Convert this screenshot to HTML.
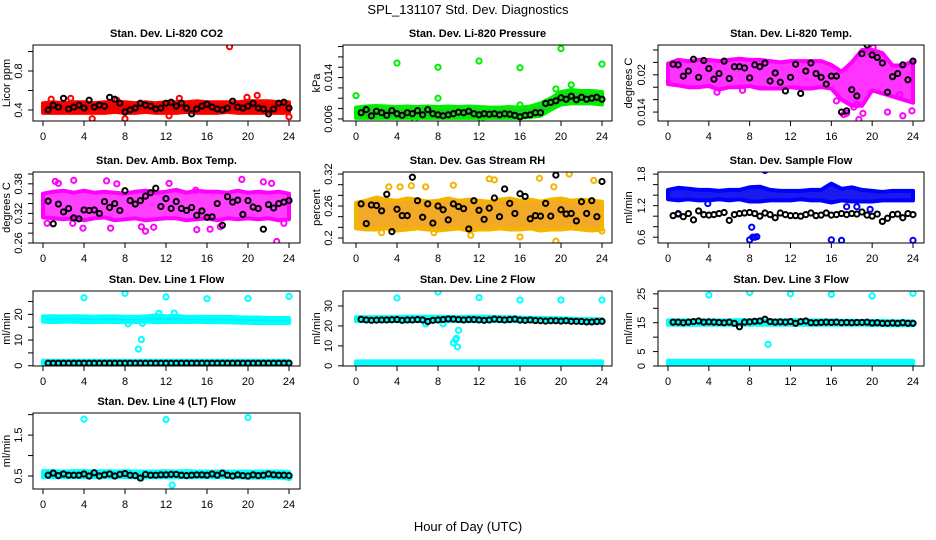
<!DOCTYPE html>
<html><head><meta charset="utf-8"><style>
html,body{margin:0;padding:0;background:#fff;}
svg{display:block;font-family:"Liberation Sans",sans-serif;}
</style></head><body>
<svg id="chart" width="936" height="540" viewBox="0 0 936 540" xmlns="http://www.w3.org/2000/svg">
<rect x="0" y="0" width="936" height="540" fill="#fff"/>
<text x="468" y="14" text-anchor="middle" font-size="13">SPL_131107  Std. Dev. Diagnostics</text>
<text x="468" y="531" text-anchor="middle" font-size="13">Hour of Day (UTC)</text>
</svg>
<script>
const bandHours=[0,1,2,3,4,5,6,7,8,9,10,11,12,13,14,15,16,17,18,19,20,21,22,23,24];
const blackHours=[0.5,1,1.5,2,2.5,3,3.5,4,4.5,5,5.5,6,6.5,7,7.5,8,8.5,9,9.5,10,10.5,11,11.5,12,12.5,13,13.5,14,14.5,15,15.5,16,16.5,17,17.5,18,18.5,19,19.5,20,20.5,21,21.5,22,22.5,23,23.5,24];
const xTicks=[0,4,8,12,16,20,24];

// CO2
const co2Lo=[0.37,0.37,0.37,0.37,0.37,0.37,0.37,0.38,0.37,0.37,0.38,0.37,0.37,0.37,0.38,0.37,0.37,0.37,0.38,0.37,0.37,0.37,0.37,0.37,0.37];
const co2Hi=[0.47,0.48,0.47,0.48,0.48,0.47,0.48,0.48,0.48,0.47,0.48,0.47,0.48,0.48,0.48,0.49,0.48,0.48,0.48,0.48,0.49,0.49,0.49,0.48,0.48];
const co2ExtraX=[18.2,4.8,8,24,20.9,2.7,13.3,0.8,12.3,19.9,7.2];
const co2ExtraY=[1.05,0.31,0.31,0.33,0.55,0.52,0.52,0.51,0.34,0.53,0.5];
const co2Black=[0.40,0.45,0.43,0.52,0.41,0.43,0.45,0.42,0.50,0.43,0.45,0.44,0.53,0.51,0.47,0.38,0.40,0.42,0.47,0.45,0.44,0.41,0.42,0.47,0.48,0.44,0.47,0.42,0.36,0.41,0.44,0.46,0.43,0.41,0.40,0.42,0.49,0.43,0.42,0.44,0.47,0.42,0.41,0.36,0.41,0.47,0.48,0.42];
const co2Ticks=[0.4,0.6,0.8,1.0];
const co2Labels=[0.4,0.8];

// Pressure
const prLo=[0.0062,0.0062,0.0062,0.0062,0.0062,0.0062,0.0062,0.0062,0.0062,0.0062,0.0062,0.0062,0.0062,0.0062,0.0062,0.0062,0.0062,0.0064,0.0066,0.0078,0.0088,0.0090,0.0090,0.0090,0.0088];
const prHi=[0.0082,0.0084,0.0085,0.0084,0.0083,0.0084,0.0083,0.0084,0.0083,0.0084,0.0083,0.0084,0.0083,0.0082,0.0082,0.0083,0.0082,0.0084,0.0090,0.0100,0.0112,0.0116,0.0114,0.0114,0.0112];
const prExtraX=[0,4,8,8,12,16,16,20,24,5.7,12.2,21,19.5];
const prExtraY=[0.0105,0.0168,0.0160,0.0100,0.0172,0.0159,0.0087,0.0196,0.0166,0.0059,0.0060,0.0126,0.0118];
const prBlack=[0.0072,0.0078,0.0066,0.0075,0.0072,0.0067,0.0076,0.0070,0.0067,0.0072,0.0070,0.0076,0.0068,0.0078,0.0070,0.0068,0.0066,0.0068,0.0070,0.0073,0.0072,0.0075,0.0070,0.0068,0.0070,0.0069,0.0070,0.0068,0.0070,0.0069,0.0067,0.0064,0.0067,0.0068,0.0072,0.0072,0.0090,0.0092,0.0095,0.0101,0.0098,0.0104,0.0097,0.0102,0.0098,0.0100,0.0102,0.0098];
const prTicks=[0.006,0.008,0.010,0.012,0.014,0.016,0.018,0.020];
const prLabels=[0.006,0.014];

// Li-820 Temp
const tLo=[0.0185,0.0183,0.0180,0.0180,0.0182,0.0176,0.0180,0.0180,0.0182,0.0178,0.0178,0.0178,0.0180,0.0178,0.0178,0.0180,0.0178,0.0160,0.0150,0.0150,0.0175,0.0170,0.0165,0.0160,0.0155];
const tHi=[0.0218,0.0224,0.0222,0.0224,0.0224,0.0222,0.0224,0.0226,0.0224,0.0224,0.0222,0.0220,0.0222,0.0222,0.0222,0.0222,0.0216,0.0205,0.0220,0.0240,0.0240,0.0235,0.0215,0.0215,0.0222];
const tExtraX=[17.2,17.5,18.7,19.1,21.5,23,23.9,7.3,4.8,18.2,19.8,20.1,22.7,16.5,18.5];
const tExtraY=[0.0136,0.0138,0.0128,0.0138,0.0140,0.0134,0.0142,0.0175,0.0172,0.0148,0.0236,0.0244,0.0168,0.0158,0.0152];
const tBlack=[0.0217,0.0216,0.0198,0.0206,0.0225,0.0196,0.0223,0.0210,0.0193,0.0202,0.0222,0.0194,0.0213,0.0213,0.0211,0.0195,0.0216,0.0213,0.0219,0.0190,0.0203,0.0188,0.0174,0.0196,0.0217,0.0170,0.0206,0.0219,0.0202,0.0196,0.0185,0.0198,0.0198,0.0140,0.0142,0.0176,0.0166,0.0234,0.0248,0.0232,0.0228,0.0219,0.0172,0.0197,0.0202,0.0216,0.0192,0.0222];
const tTicks=[0.014,0.016,0.018,0.020,0.022,0.024];
const tLabels=[0.014,0.020];

// Amb box temp
const abLo=[0.312,0.310,0.308,0.310,0.306,0.310,0.312,0.306,0.308,0.310,0.306,0.308,0.310,0.310,0.306,0.308,0.310,0.306,0.310,0.308,0.310,0.308,0.310,0.306,0.308];
const abHi=[0.360,0.364,0.366,0.362,0.366,0.362,0.364,0.362,0.360,0.364,0.366,0.362,0.364,0.368,0.362,0.366,0.364,0.364,0.362,0.366,0.362,0.364,0.362,0.364,0.360];
const abExtraX=[0.4,1.2,2.9,3.9,6.2,9.6,10,12.3,10.8,15,16.3,19.4,21.5,22.3,22.8,1.5,6.6,3,17.3,14.9,7.2,23.5];
const abExtraY=[0.300,0.385,0.300,0.290,0.386,0.293,0.284,0.381,0.292,0.287,0.288,0.389,0.384,0.381,0.263,0.381,0.290,0.387,0.293,0.367,0.380,0.300];
const abBlack=[0.345,0.299,0.339,0.323,0.330,0.311,0.309,0.327,0.326,0.327,0.320,0.344,0.332,0.340,0.326,0.366,0.346,0.339,0.346,0.355,0.362,0.371,0.334,0.350,0.330,0.344,0.330,0.326,0.332,0.316,0.325,0.312,0.313,0.340,0.296,0.354,0.343,0.347,0.318,0.346,0.333,0.330,0.288,0.338,0.331,0.340,0.343,0.346];
const abTicks=[0.26,0.28,0.30,0.32,0.34,0.36,0.38,0.40];
const abLabels=[0.26,0.32,0.38];

// Gas stream RH
const rhLo=[0.218,0.216,0.216,0.218,0.214,0.216,0.218,0.216,0.214,0.216,0.218,0.214,0.216,0.216,0.218,0.216,0.216,0.218,0.214,0.216,0.216,0.218,0.216,0.214,0.216];
const rhHi=[0.266,0.270,0.276,0.272,0.270,0.274,0.272,0.268,0.270,0.274,0.270,0.272,0.270,0.268,0.272,0.274,0.270,0.272,0.268,0.272,0.274,0.270,0.272,0.270,0.268];
const rhExtraX=[3.2,4.3,6.8,9.5,13,13.5,17.9,19.5,20.8,23.2,5.4,11.2,16,19.3,24,2.5,7.6];
const rhExtraY=[0.296,0.296,0.296,0.299,0.311,0.309,0.312,0.194,0.320,0.308,0.298,0.205,0.202,0.296,0.213,0.210,0.210];
const rhBlack=[0.264,0.227,0.262,0.261,0.251,0.282,0.212,0.254,0.242,0.242,0.314,0.270,0.239,0.264,0.228,0.260,0.253,0.234,0.264,0.259,0.255,0.217,0.270,0.252,0.235,0.256,0.275,0.240,0.292,0.265,0.246,0.283,0.278,0.236,0.242,0.241,0.265,0.241,0.318,0.253,0.245,0.246,0.232,0.268,0.246,0.270,0.240,0.306];
const rhTicks=[0.20,0.22,0.24,0.26,0.28,0.30,0.32];
const rhLabels=[0.20,0.26,0.32];

// Sample flow
const sfLo=[1.32,1.30,1.32,1.30,1.30,1.32,1.30,1.32,1.28,1.28,1.30,1.30,1.30,1.32,1.30,1.30,1.26,1.30,1.28,1.28,1.28,1.30,1.30,1.30,1.30];
const sfHi=[1.50,1.54,1.52,1.50,1.50,1.48,1.50,1.50,1.55,1.56,1.50,1.48,1.48,1.48,1.50,1.50,1.62,1.52,1.55,1.50,1.48,1.46,1.48,1.48,1.48];
const sfExtraX=[9.5,8,8.3,8.5,8.7,8.2,16,17,24,1,17.5,19.8,3.9,18.5];
const sfExtraY=[1.87,0.55,0.60,0.60,0.61,0.79,0.55,0.54,0.54,1.05,1.18,1.13,1.24,1.18];
const sfBlack=[1.01,1.04,0.99,1.05,0.93,1.10,1.03,1.02,1.03,1.05,1.07,0.92,1.03,1.05,1.06,1.07,1.05,1.00,1.06,1.03,0.97,1.06,1.03,1.01,1.01,1.00,1.03,1.06,1.01,1.02,1.06,1.02,1.03,1.05,1.03,1.05,1.04,1.08,1.02,1.00,1.04,0.90,0.96,1.03,1.04,0.97,1.05,1.03];
const sfTicks=[0.6,0.8,1.0,1.2,1.4,1.6,1.8];
const sfLabels=[0.6,1.2,1.8];

// Line 1 flow
const l1Lo=[17.2,17.0,17.1,17.2,17.0,17.0,17.1,17.0,17.0,17.0,17.2,17.0,17.0,17.1,17.0,17.1,17.0,16.9,16.9,16.8,16.7,16.6,16.6,16.6,16.6];
const l1Hi=[19.2,19.3,19.2,19.3,19.2,19.1,19.2,19.2,19.1,19.0,19.2,19.6,19.3,19.4,19.1,19.1,19.0,19.0,19.0,18.9,18.8,18.8,18.6,18.6,18.6];
const l1Lo2=[0.5,0.5,0.5,0.5,0.5,0.5,0.5,0.5,0.5,0.5,0.5,0.5,0.5,0.5,0.5,0.5,0.5,0.5,0.5,0.5,0.5,0.5,0.5,0.5,0.5];
const l1Hi2=[2.0,1.9,1.9,1.9,1.9,1.9,1.9,1.9,1.9,1.9,1.9,1.9,1.9,1.9,1.9,1.9,1.9,1.9,1.9,1.9,1.9,1.9,1.9,1.9,1.9];
const l1ExtraX=[4,8,12,16,20,24,9.3,9.6,9.7,8.3,11.3,12.8];
const l1ExtraY=[26.5,28.2,26.8,26.1,26.2,27.0,6.5,10.2,16.5,16.3,20.4,20.5];
const l1Black=[1,1,1,1,1,1,1,1,1,1,1,1,1,1,1,1,1,1,1,1,1,1,1,1,1,1,1,1,1,1,1,1,1,1,1,1,1,1,1,1,1,1,1,1,1,1,1,1];
const l1Ticks=[0,5,10,15,20,25];
const l1Labels=[0,10,20];

// Line 2 flow
const l2Lo=[22.4,22.4,22.4,22.4,22.4,22.4,22.4,22.4,22.4,22.4,22.4,22.4,22.4,22.4,22.4,22.4,22.4,22.2,22.2,22.0,22.0,22.0,21.8,21.8,21.8];
const l2Hi=[24.4,24.4,24.4,24.4,24.4,24.6,24.6,24.6,24.6,24.4,24.4,24.6,24.6,24.6,24.4,24.4,24.2,24.0,24.0,23.8,23.8,23.6,23.4,23.4,23.4];
const l2Lo2=[0.5,0.5,0.5,0.5,0.5,0.5,0.5,0.5,0.5,0.5,0.5,0.5,0.5,0.5,0.5,0.5,0.5,0.5,0.5,0.5,0.5,0.5,0.5,0.5,0.5];
const l2Hi2=[2.2,2.2,2.2,2.2,2.2,2.2,2.2,2.2,2.2,2.2,2.2,2.2,2.2,2.2,2.2,2.2,2.2,2.2,2.2,2.2,2.2,2.2,2.2,2.2,2.2];
const l2ExtraX=[4,8,12,16,20,24,9.5,9.8,10,9.9,9.7,6.8,8.5];
const l2ExtraY=[34,37,34.2,33,33,33,11.5,13.8,17.8,9.5,13,21,21];
const l2Black=[23.3,23.0,22.8,22.9,23.0,23.0,23.1,23.2,22.8,23.0,23.0,23.2,23.0,22.2,22.8,23.0,23.2,23.5,23.4,23.2,23.0,23.2,23.2,23.0,22.8,23.0,23.4,23.2,23.0,23.2,23.4,22.9,22.8,23.0,22.7,22.6,22.4,22.6,22.6,22.4,22.6,22.3,22.3,22.2,22.0,22.0,22.2,22.3];
const l2Ticks=[0,10,20,30];
const l2Labels=[0,10,20,30];

// Line 3 flow
const l3Lo=[14.3,14.3,14.3,14.3,14.3,14.3,14.3,14.3,14.3,14.3,14.3,14.3,14.3,14.3,14.3,14.3,14.3,14.3,14.3,14.3,14.2,14.2,14.1,14.1,14.1];
const l3Hi=[15.8,15.8,15.8,15.8,15.8,15.8,15.8,15.9,15.9,15.8,15.8,15.8,15.9,15.8,15.8,15.8,15.8,15.7,15.7,15.6,15.6,15.6,15.5,15.5,15.5];
const l3Lo2=[0.3,0.3,0.3,0.3,0.3,0.3,0.3,0.3,0.3,0.3,0.3,0.3,0.3,0.3,0.3,0.3,0.3,0.3,0.3,0.3,0.3,0.3,0.3,0.3,0.3];
const l3Hi2=[1.8,1.8,1.8,1.8,1.8,1.8,1.8,1.8,1.8,1.8,1.8,1.8,1.8,1.8,1.8,1.8,1.8,1.8,1.8,1.8,1.8,1.8,1.8,1.8,1.8];
const l3ExtraX=[4,8,12,16,20,24,9.8];
const l3ExtraY=[24.6,25.5,25,24.8,24.3,25.2,7.5];
const l3Black=[15.2,15.2,15.0,15.2,15.4,15.6,15.2,15.3,15.2,15.1,15.0,15.2,14.8,13.6,15.2,15.3,15.5,15.6,16.2,15.4,15.2,15.3,15.2,15.4,14.8,15.4,15.6,15.0,15.0,15.1,15.2,15.1,15.2,15.0,15.1,15.0,15.1,15.1,15.2,14.9,15.0,14.8,14.8,14.9,14.8,15.0,14.8,14.8];
const l3Ticks=[0,5,10,15,20,25];
const l3Labels=[0,5,15,25];

// Line 4 flow
const l4Lo=[0.47,0.47,0.47,0.47,0.47,0.47,0.47,0.47,0.47,0.47,0.47,0.47,0.47,0.47,0.47,0.47,0.47,0.47,0.47,0.47,0.46,0.46,0.46,0.46,0.44];
const l4Hi=[0.62,0.62,0.61,0.62,0.62,0.61,0.62,0.61,0.62,0.61,0.61,0.61,0.62,0.61,0.62,0.61,0.61,0.61,0.61,0.61,0.61,0.61,0.61,0.61,0.60];
const l4ExtraX=[4,12,20,12.6,24,9.6];
const l4ExtraY=[1.89,1.88,1.93,0.28,0.46,0.45];
const l4Black=[0.52,0.57,0.51,0.55,0.52,0.52,0.52,0.55,0.50,0.58,0.50,0.53,0.55,0.50,0.54,0.56,0.52,0.51,0.45,0.54,0.52,0.52,0.53,0.53,0.54,0.54,0.52,0.51,0.52,0.53,0.53,0.52,0.55,0.52,0.57,0.52,0.50,0.53,0.51,0.50,0.53,0.51,0.52,0.55,0.53,0.52,0.52,0.51];
const l4Ticks=[0.5,1.0,1.5,2.0];
const l4Labels=[0.5,1.5];

const svg=document.getElementById('chart');
const NS='http://www.w3.org/2000/svg';
function mk(tag,attrs,parent){const e=document.createElementNS(NS,tag);for(const k in attrs)e.setAttribute(k,attrs[k]);(parent||svg).appendChild(e);return e;}

const cols=[{bl:33,br:300,x0:43,x24:289,ylab:10,tl:22},{bl:343,br:612,x0:356,x24:602,ylab:320,tl:332},{bl:658,br:924,x0:668,x24:913,ylab:632,tl:645}];
const rows=[{t:45,b:121},{t:172,b:243},{t:291,b:366},{t:413,b:489}];

function panel(o){
  const c=cols[o.col],r=rows[o.row];
  const g=mk('g',{});
  
  
  const xs=h=>c.x0+(h/24)*(c.x24-c.x0);
  const ys=v=>r.b-(v-o.ymin)/(o.ymax-o.ymin)*(r.b-r.t);
  const clip='clip-'+o.name;
  const cp=mk('clipPath',{id:clip},g);mk('rect',{x:c.bl,y:r.t,width:c.br-c.bl,height:r.b-r.t},cp);
  const pg=mk('g',{'clip-path':'url(#'+clip+')'},g);
  o.bands.forEach((bd,bi)=>{
    let pts=[];
    bandHours.forEach((h,i)=>pts.push(xs(h).toFixed(1)+','+ys(bd.hi[i]).toFixed(1)));
    for(let i=bandHours.length-1;i>=0;i--)pts.push(xs(bandHours[i]).toFixed(1)+','+ys(bd.lo[i]).toFixed(1));
    const p=mk('polygon',{points:pts.join(' '),fill:o.fill,stroke:o.color,'stroke-width':4,'stroke-linejoin':'round','fill-opacity':o.op||1},pg);
    
    
  });
  o.ex.forEach((h,i)=>{
    const ci=mk('circle',{cx:xs(h),cy:ys(o.ey[i]),r:2.6,fill:'none',stroke:o.color,'stroke-width':2},pg);
    
    
  });
  o.black.forEach((v,i)=>{
    if(i>=blackHours.length)return;
    const ci=mk('circle',{cx:xs(blackHours[i]),cy:ys(v),r:2.6,fill:'none',stroke:'#000','stroke-width':2},pg);
    
    
  });
  const bx=mk('rect',{x:c.bl,y:r.t,width:c.br-c.bl,height:r.b-r.t,fill:'none',stroke:'#000','stroke-width':1},g);
  
  
  const ti=mk('text',{x:(c.bl+c.br)/2,y:r.t-8,'text-anchor':'middle','font-size':11,'font-weight':'bold'},g);
  ti.textContent=o.title;
  
  
  mk('line',{x1:xs(0),x2:xs(24),y1:r.b,y2:r.b,stroke:'#000'},g);
  xTicks.forEach(t=>{
    mk('line',{x1:xs(t),x2:xs(t),y1:r.b,y2:r.b+5,stroke:'#000'},g);
    const tx=mk('text',{x:xs(t),y:r.b+19,'text-anchor':'middle','font-size':11},g);
    tx.textContent=t;
    
    
  });
  o.yt.forEach(t=>{mk('line',{x1:c.bl,x2:c.bl-5,y1:ys(t),y2:ys(t),stroke:'#000'},g);});
  o.yl.forEach(t=>{
    const y=ys(t);
    const tx=mk('text',{x:c.tl,y:y,'text-anchor':'middle','font-size':11,transform:'rotate(-90 '+c.tl+' '+y+')'},g);
    tx.textContent=String(t);
    
    
  });
  const cy=(r.t+r.b)/2;
  const yl=mk('text',{x:c.ylab,y:cy,'text-anchor':'middle','font-size':11,transform:'rotate(-90 '+c.ylab+' '+cy+')'},g);
  yl.textContent=o.ylabel;
  
  
}

panel({name:'co2',col:0,row:0,ymin:0.287,ymax:1.067,title:'Stan. Dev. Li-820 CO2',ylabel:'Licor ppm',color:'#ff0000',fill:'#ee0000',bands:[{lo:co2Lo,hi:co2Hi}],ex:co2ExtraX,ey:co2ExtraY,black:co2Black,yt:co2Ticks,yl:co2Labels});
panel({name:'pressure',col:1,row:0,ymin:0.0056,ymax:0.0203,title:'Stan. Dev. Li-820 Pressure',ylabel:'kPa',color:'#00ee00',fill:'#22cc22',bands:[{lo:prLo,hi:prHi}],ex:prExtraX,ey:prExtraY,black:prBlack,yt:prTicks,yl:prLabels});
panel({name:'li820-temp',col:2,row:0,ymin:0.01256,ymax:0.0248,title:'Stan. Dev. Li-820 Temp.',ylabel:'degrees C',color:'#ff00ff',fill:'#ff00ff',op:0.8,bands:[{lo:tLo,hi:tHi}],ex:tExtraX,ey:tExtraY,black:tBlack,yt:tTicks,yl:tLabels});
panel({name:'amb-box-temp',col:0,row:1,ymin:0.26,ymax:0.404,title:'Stan. Dev. Amb. Box Temp.',ylabel:'degrees C',color:'#ff00ff',fill:'#ff00ff',op:0.75,bands:[{lo:abLo,hi:abHi}],ex:abExtraX,ey:abExtraY,black:abBlack,yt:abTicks,yl:abLabels});
panel({name:'gas-stream-rh',col:1,row:1,ymin:0.1906,ymax:0.3238,title:'Stan. Dev. Gas Stream RH',ylabel:'percent',color:'#f4b400',fill:'#f0a010',op:0.9,bands:[{lo:rhLo,hi:rhHi}],ex:rhExtraX,ey:rhExtraY,black:rhBlack,yt:rhTicks,yl:rhLabels});
panel({name:'sample-flow',col:2,row:1,ymin:0.49,ymax:1.84,title:'Stan. Dev. Sample Flow',ylabel:'ml/min',color:'#0000ff',fill:'#1a1aee',bands:[{lo:sfLo,hi:sfHi}],ex:sfExtraX,ey:sfExtraY,black:sfBlack,yt:sfTicks,yl:sfLabels});
panel({name:'line1-flow',col:0,row:2,ymin:-0.1,ymax:29.1,title:'Stan. Dev. Line 1 Flow',ylabel:'ml/min',color:'#00ffff',fill:'#00f0f0',bands:[{lo:l1Lo,hi:l1Hi},{lo:l1Lo2,hi:l1Hi2}],ex:l1ExtraX,ey:l1ExtraY,black:l1Black,yt:l1Ticks,yl:l1Labels});
panel({name:'line2-flow',col:1,row:2,ymin:-0.08,ymax:37.5,title:'Stan. Dev. Line 2 Flow',ylabel:'ml/min',color:'#00ffff',fill:'#00f0f0',bands:[{lo:l2Lo,hi:l2Hi},{lo:l2Lo2,hi:l2Hi2}],ex:l2ExtraX,ey:l2ExtraY,black:l2Black,yt:l2Ticks,yl:l2Labels});
panel({name:'line3-flow',col:2,row:2,ymin:0,ymax:26,title:'Stan. Dev. Line 3 Flow',ylabel:'ml/min',color:'#00ffff',fill:'#00f0f0',bands:[{lo:l3Lo,hi:l3Hi},{lo:l3Lo2,hi:l3Hi2}],ex:l3ExtraX,ey:l3ExtraY,black:l3Black,yt:l3Ticks,yl:l3Labels});
panel({name:'line4-flow',col:0,row:3,ymin:0.183,ymax:2.04,title:'Stan. Dev. Line 4 (LT) Flow',ylabel:'ml/min',color:'#00ffff',fill:'#00f0f0',bands:[{lo:l4Lo,hi:l4Hi}],ex:l4ExtraX,ey:l4ExtraY,black:l4Black,yt:l4Ticks,yl:l4Labels});
</script>
</body></html>
